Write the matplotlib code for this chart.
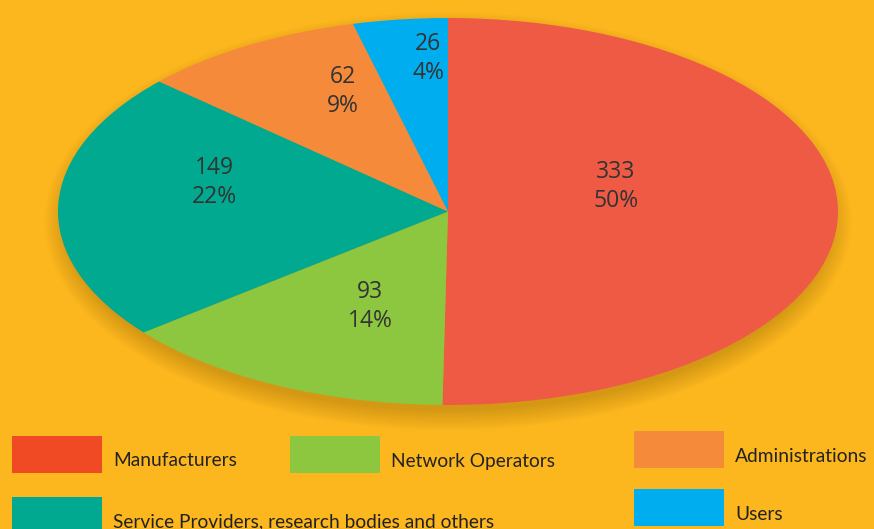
import matplotlib.pyplot as plt
from matplotlib.patches import Rectangle, Ellipse

plt.switch_backend('agg')

categories = ['Manufacturers', 'Network Operators',
              'Service Providers, research bodies and others',
              'Administrations', 'Users']
counts = [333, 93, 149, 62, 26]
percents = ['50%', '14%', '22%', '9%', '4%']
pie_colors = ['#EF5A45', '#8DC63F', '#00A98F', '#F58A3A', '#00AEEF']
legend_colors = ['#F04A24', '#8DC63F', '#00A98F', '#F58A3A', '#00AEEF']

bg = '#FDB71E'
W, H = 874, 529

fig = plt.figure(figsize=(W / 100, H / 100), dpi=100)
fig.patch.set_facecolor(bg)

# pie axes covers the ellipse (pixel box 58..838 x 18..405)
ax = fig.add_axes([58 / W, 1 - 405 / H, 780 / W, 387 / H])
ax.set_facecolor('none')
ax.axis('off')

# soft shadow under the pie
for i in range(10):
    ax.add_patch(Ellipse((0.0, -0.05), 1.96 + i * 0.012, 1.96 + i * 0.022,
                         color='#7a5410', alpha=0.03, lw=0, zorder=0, clip_on=False))

wedges, _ = ax.pie(counts, colors=pie_colors, startangle=90, counterclock=False,
                   radius=1.0, wedgeprops=dict(linewidth=0, zorder=2))
for w in wedges:
    w.set_clip_on(False)
ax.set_aspect('auto')
ax.set_xlim(-1, 1)
ax.set_ylim(-1, 1)

# label anchor points inside each slice (axes units)
label_pos = [(0.43, 0.13), (-0.20, -0.49), (-0.60, 0.15), (-0.27, 0.62), (-0.05, 0.79)]
for n, p, (x, y) in zip(counts, percents, label_pos):
    ax.text(x, y, f'{n}\n{p}', ha='center', va='center', fontsize=16.5,
            color='#333333', family=['Open Sans', 'DejaVu Sans'],
            linespacing=1.25, zorder=5)

# legend
boxes = [(12, 436), (290, 436), (12, 497), (634, 431), (634, 489)]
for (x, y), c, name in zip(boxes, legend_colors, categories):
    fig.patches.append(Rectangle((x / W, 1 - (y + 37) / H), 90 / W, 37 / H,
                                 transform=fig.transFigure, color=c, lw=0))
    fig.text((x + 101) / W, 1 - (y + 25) / H, name, ha='left', va='center',
             fontsize=13.8, color='#222222', family=['Lato', 'DejaVu Sans'])

fig.savefig('out.png', dpi=100, facecolor=bg)
